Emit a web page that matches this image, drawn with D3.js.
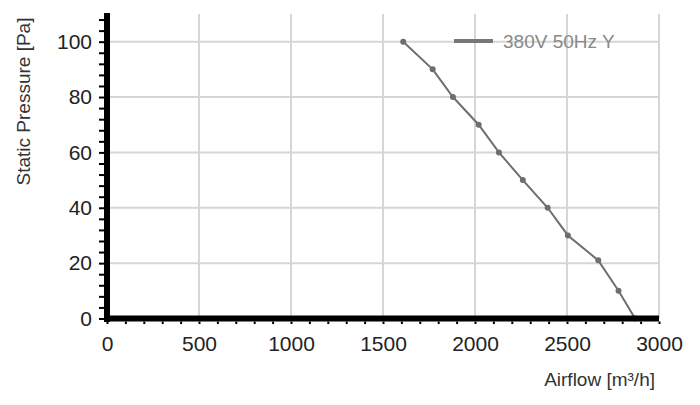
<!DOCTYPE html>
<html>
<head>
<meta charset="utf-8">
<script src="https://cdn.jsdelivr.net/npm/d3@7"></script>
<style>
  body { margin: 0; background: #fff; }
  svg { display: block; font-family: "Liberation Sans", Arial, sans-serif; }
</style>
</head>
<body>
<svg id="chart"></svg>
<script>
// fan curve
const airflow = [1610, 1770, 1880, 2020, 2130, 2260, 2395, 2505, 2670, 2780, 2870];
const pressure = [100, 90, 80, 70, 60, 50, 40, 30, 21, 10, 0];
const seriesName = "380V 50Hz Y";

const xTicks = [0, 500, 1000, 1500, 2000, 2500, 3000];
const yTicks = [0, 20, 40, 60, 80, 100];

const W = 700, H = 405;
const svg = d3.select("#chart").attr("width", W).attr("height", H);

const x = d3.scaleLinear().domain([0, 3000]).range([107, 659]);
const y = d3.scaleLinear().domain([0, 110]).range([318.5, 14]);

// grid
svg.append("g").selectAll("line.vg")
  .data(xTicks.filter(d => d > 0))
  .join("line")
  .attr("x1", d => x(d)).attr("x2", d => x(d))
  .attr("y1", y(110)).attr("y2", y(0))
  .attr("stroke", "#d6d6d6").attr("stroke-width", 2);

svg.append("g").selectAll("line.hg")
  .data(yTicks.filter(d => d > 0))
  .join("line")
  .attr("x1", x(0)).attr("x2", x(3000))
  .attr("y1", d => y(d)).attr("y2", d => y(d))
  .attr("stroke", "#d6d6d6").attr("stroke-width", 2);

// the curve
const pts = airflow.map((a, i) => ({x: a, y: pressure[i]}));
svg.append("path")
  .datum(pts)
  .attr("fill", "none")
  .attr("stroke", "#6e6e6e")
  .attr("stroke-width", 2)
  .attr("d", d3.line().x(d => x(d.x)).y(d => y(d.y)));

svg.append("g").selectAll("circle")
  .data(pts)
  .join("circle")
  .attr("cx", d => x(d.x))
  .attr("cy", d => y(d.y))
  .attr("r", 3)
  .attr("fill", "#6e6e6e");

// minor ticks
const yMinor = svg.append("g")
  .attr("transform", "translate(104,0)")
  .call(d3.axisLeft(y).tickValues(d3.range(0, 110, 4)).tickSize(5).tickFormat(""));
yMinor.select(".domain").remove();
yMinor.selectAll("line").attr("stroke", "#000").attr("stroke-width", 2);

const xMinor = svg.append("g")
  .attr("transform", "translate(0,321.5)")
  .call(d3.axisBottom(x).tickValues(d3.range(0, 3001, 100)).tickSize(2.5).tickFormat(""));
xMinor.select(".domain").remove();
xMinor.selectAll("line").attr("stroke", "#000").attr("stroke-width", 2);

// thick axis lines
svg.append("line")
  .attr("x1", x(0)).attr("x2", x(0))
  .attr("y1", y(110) - 1).attr("y2", y(0) + 3.5)
  .attr("stroke", "#000").attr("stroke-width", 6);
svg.append("line")
  .attr("x1", x(0) - 3).attr("x2", x(3000))
  .attr("y1", y(0)).attr("y2", y(0))
  .attr("stroke", "#000").attr("stroke-width", 6);

// tick labels
const yLab = svg.append("g")
  .attr("transform", "translate(104,0)")
  .call(d3.axisLeft(y).tickValues(yTicks).tickSize(0).tickPadding(12).tickFormat(d => d));
yLab.select(".domain").remove();
yLab.selectAll("text").attr("font-size", 21).attr("fill", "#222")
  .attr("font-family", "Liberation Sans, Arial, sans-serif");

const xLab = svg.append("g")
  .attr("transform", "translate(0,318.5)")
  .call(d3.axisBottom(x).tickValues(xTicks).tickSize(0).tickPadding(18).tickFormat(d => d));
xLab.select(".domain").remove();
xLab.selectAll("text").attr("font-size", 21).attr("fill", "#222")
  .attr("font-family", "Liberation Sans, Arial, sans-serif");

// axis titles
svg.append("text")
  .attr("transform", "translate(30,101.5) rotate(-90)")
  .attr("text-anchor", "middle")
  .attr("font-size", 19)
  .attr("fill", "#333")
  .text("Static Pressure [Pa]");

svg.append("text")
  .attr("x", 655).attr("y", 386)
  .attr("text-anchor", "end")
  .attr("font-size", 19)
  .attr("fill", "#333")
  .text("Airflow [m³/h]");

// legend
svg.append("line")
  .attr("x1", 454).attr("x2", 493)
  .attr("y1", 41).attr("y2", 41)
  .attr("stroke", "#777").attr("stroke-width", 4);
svg.append("text")
  .attr("x", 503).attr("y", 48)
  .attr("font-size", 19)
  .attr("fill", "#888")
  .text(seriesName);
</script>
</body>
</html>
